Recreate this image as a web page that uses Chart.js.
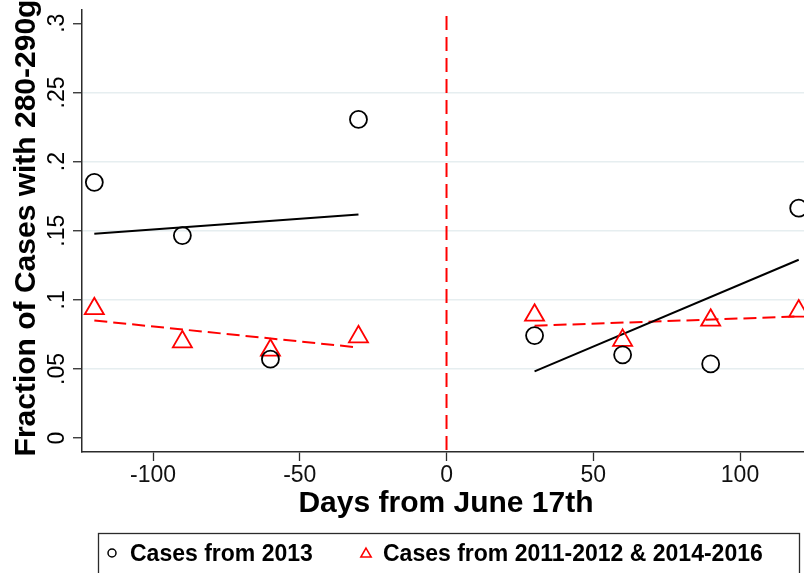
<!DOCTYPE html>
<html>
<head>
<meta charset="utf-8">
<script src="https://cdn.jsdelivr.net/npm/chart.js@4.4.0/dist/chart.umd.min.js"></script>
<style>
  html, body { margin: 0; padding: 0; background: #fff; }
  canvas { display: block; }
</style>
</head>
<body>
<canvas id="chart" width="804" height="573"></canvas>
<script>
// values
const days = [-120, -90, -60, -30, 30, 60, 90, 120];
const cases2013 = [0.185, 0.1465, 0.0571, 0.2305, 0.0742, 0.0603, 0.0537, 0.1663];
const casesOther = [0.0936, 0.0697, 0.0636, 0.0733, 0.0889, 0.0707, 0.0853, 0.0919];

const fitDaysBefore = [-120, -30];
const fitDaysAfter = [30, 120];
const fit2013Before = [0.1478, 0.1617];
const fit2013After = [0.0483, 0.129];
const fitOtherBefore = [0.0851, 0.0656];
const fitOtherAfter = [0.0813, 0.088];

const cutoffDay = 0;

const xTicks = [-100, -50, 0, 50, 100];
const yTicks = [0, 0.05, 0.1, 0.15, 0.2, 0.25, 0.3];
const yTickLabels = ['0', '.05', '.1', '.15', '.2', '.25', '.3'];

const xTitle = 'Days from June 17th';
const yTitle = 'Fraction of Cases with 280-290g';
const legendLabels = ['Cases from 2013', 'Cases from 2011-2012 & 2014-2016'];

const FONT = '"Liberation Sans", Arial, Helvetica, sans-serif';
const RED = '#ff0000';
const AXIS = '#2b2b2b';

function points(xs, ys) {
  return xs.map((x, i) => ({ x, y: ys[i] }));
}

function fitLine(xs, ys, color, dash) {
  return {
    data: points(xs, ys),
    showLine: true,
    borderColor: color,
    borderWidth: 2,
    borderDash: dash,
    pointRadius: 0,
    fill: false,
    clip: false
  };
}

const extras = {
  id: 'extras',
  beforeDatasetsDraw(chart) {
    const { ctx, chartArea, scales: { x } } = chart;
    const px = x.getPixelForValue(cutoffDay);
    ctx.save();
    ctx.strokeStyle = RED;
    ctx.lineWidth = 2;
    ctx.setLineDash([14, 7]);
    ctx.lineDashOffset = 15;
    ctx.beginPath();
    ctx.moveTo(px, chartArea.top);
    ctx.lineTo(px, chartArea.bottom);
    ctx.stroke();
    ctx.restore();
  },
  afterDraw(chart) {
    const { ctx, scales: { y } } = chart;
    ctx.save();
    ctx.fillStyle = '#000';

    // rotated y tick labels
    ctx.font = '23px ' + FONT;
    ctx.textAlign = 'center';
    ctx.textBaseline = 'alphabetic';
    yTicks.forEach((v, i) => {
      ctx.save();
      ctx.translate(64, y.getPixelForValue(v));
      ctx.rotate(-Math.PI / 2);
      ctx.fillText(yTickLabels[i], 0, 0);
      ctx.restore();
    });

    // axis titles
    ctx.font = 'bold 30px ' + FONT;
    ctx.save();
    ctx.translate(35, 228);
    ctx.rotate(-Math.PI / 2);
    ctx.fillText(yTitle, 0, 0);
    ctx.restore();
    ctx.fillText(xTitle, 446, 512);

    // legend box
    ctx.strokeStyle = AXIS;
    ctx.lineWidth = 1.3;
    ctx.strokeRect(98.5, 533.5, 701, 60);

    ctx.lineWidth = 1.5;
    ctx.strokeStyle = '#000';
    ctx.beginPath();
    ctx.arc(112, 553, 4, 0, Math.PI * 2);
    ctx.stroke();

    ctx.strokeStyle = RED;
    const tx = 366, ty = 554, r = 6;
    ctx.beginPath();
    ctx.moveTo(tx, ty - r);
    ctx.lineTo(tx + r * Math.sin(2 * Math.PI / 3), ty - r * Math.cos(2 * Math.PI / 3));
    ctx.lineTo(tx + r * Math.sin(4 * Math.PI / 3), ty - r * Math.cos(4 * Math.PI / 3));
    ctx.closePath();
    ctx.stroke();

    ctx.font = 'bold 23px ' + FONT;
    ctx.textAlign = 'left';
    ctx.fillText(legendLabels[0], 130, 561);
    ctx.fillText(legendLabels[1], 383, 561);
    ctx.restore();
  }
};

new Chart(document.getElementById('chart'), {
  type: 'scatter',
  data: {
    datasets: [
      {
        data: points(days, cases2013),
        pointStyle: 'circle',
        pointRadius: 8.5,
        borderColor: '#000',
        backgroundColor: 'rgba(0,0,0,0)',
        pointBorderWidth: 1.8,
        clip: false
      },
      {
        data: points(days, casesOther),
        pointStyle: 'triangle',
        pointRadius: 11,
        borderColor: RED,
        backgroundColor: 'rgba(0,0,0,0)',
        pointBorderWidth: 1.8,
        clip: false
      },
      fitLine(fitDaysBefore, fit2013Before, '#000', []),
      fitLine(fitDaysAfter, fit2013After, '#000', []),
      fitLine(fitDaysBefore, fitOtherBefore, RED, [13, 6]),
      fitLine(fitDaysAfter, fitOtherAfter, RED, [13, 6])
    ]
  },
  options: {
    responsive: false,
    animation: false,
    devicePixelRatio: 1,
    layout: { autoPadding: false, padding: { top: 10, left: 0, right: 0, bottom: 0 } },
    plugins: { legend: { display: false }, tooltip: { enabled: false } },
    scales: {
      x: {
        type: 'linear',
        min: -124.2,
        max: 121.8,
        afterBuildTicks: s => { s.ticks = xTicks.map(v => ({ value: v })); },
        afterFit: s => { s.height = 121; s.paddingLeft = 0; s.paddingRight = 0; },
        grid: { drawOnChartArea: false, tickLength: 9, tickColor: AXIS, tickWidth: 1.3 },
        border: { color: AXIS, width: 1.5 },
        ticks: { color: '#111', font: { family: FONT, size: 23 }, padding: 1, maxRotation: 0 }
      },
      y: {
        type: 'linear',
        min: -0.01,
        max: 0.3096,
        afterBuildTicks: s => { s.ticks = yTicks.map(v => ({ value: v })); },
        afterFit: s => { s.width = 82; s.paddingTop = 0; s.paddingBottom = 0; },
        grid: {
          color: c => (c.tick && c.tick.value > 0.01 && c.tick.value < 0.29) ? '#e6eef0' : 'rgba(0,0,0,0)',
          lineWidth: 1.5,
          tickLength: 9,
          tickColor: AXIS,
          tickWidth: 1.3
        },
        border: { color: AXIS, width: 1.5 },
        ticks: { display: false }
      }
    }
  },
  plugins: [extras]
});
</script>
</body>
</html>
